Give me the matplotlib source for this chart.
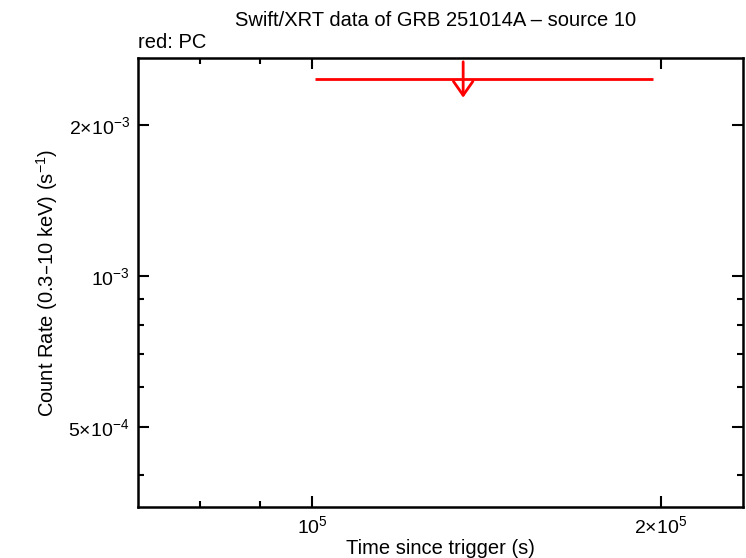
import numpy as np
import matplotlib
matplotlib.use("Agg")
import matplotlib.pyplot as plt
from matplotlib.ticker import FixedLocator, FixedFormatter, NullFormatter

plt.rcParams['font.family'] = ['Liberation Sans', 'DejaVu Sans']
plt.rcParams['mathtext.default'] = 'regular'

# PC mode upper limit
t_mid = [1.35e5]
t_lo = [1.006e5]
t_hi = [1.971e5]
rate_ul = [2.474e-3]

x_major = [1e5, 2e5]
x_major_labels = ['$10^{5}$', '$2{\\times}10^{5}$']
x_minor = [7e4, 8e4, 9e4]
y_major = [5e-4, 1e-3, 2e-3]
y_major_labels = ['$5{\\times}10^{-4}$', '$10^{-3}$', '$2{\\times}10^{-3}$']
y_minor = [4e-4, 6e-4, 7e-4, 8e-4, 9e-4]

fig = plt.figure(figsize=(7.46, 5.58), dpi=100)
ax = fig.add_axes([138/746, 51/558, 605/746, 449/558])
ax.set_xscale('log')
ax.set_yscale('log')
ax.set_xlim(70650, 235700)
ax.set_ylim(3.457e-4, 2.726e-3)

for t, lo, hi, r in zip(t_mid, t_lo, t_hi, rate_ul):
    ax.plot([lo, hi], [r, r], color='red', lw=2.0, solid_capstyle='butt')
    ax.annotate('', xy=(t, r * 0.918), xytext=(t, r * 1.083),
                arrowprops=dict(arrowstyle='->,head_length=0.5,head_width=0.35',
                                color='red', lw=2.0,
                                mutation_scale=20, shrinkA=0, shrinkB=0))

ax.xaxis.set_major_locator(FixedLocator(x_major))
ax.xaxis.set_major_formatter(FixedFormatter(x_major_labels))
ax.xaxis.set_minor_locator(FixedLocator(x_minor))
ax.xaxis.set_minor_formatter(NullFormatter())
ax.yaxis.set_major_locator(FixedLocator(y_major))
ax.yaxis.set_major_formatter(FixedFormatter(y_major_labels))
ax.yaxis.set_minor_locator(FixedLocator(y_minor))
ax.yaxis.set_minor_formatter(NullFormatter())

ax.tick_params(which='both', direction='in', top=True, right=True, width=1.5,
               labelsize=14)
ax.tick_params(which='major', length=8, pad=6)
ax.tick_params(which='minor', length=4)
for s in ax.spines.values():
    s.set_linewidth(1.8)

ax.set_xlabel('Time since trigger (s)', fontsize=14.5, labelpad=1)
ax.set_ylabel('Count Rate (0.3\u201310 keV) (s$^{-1}$)', fontsize=14.5, labelpad=6)
fig.text(436/746, 1 - 20/558, 'Swift/XRT data of GRB 251014A \u2013 source 10',
         ha='center', va='center', fontsize=14.5)
fig.text(138/746, 1 - 43/558, 'red: PC', ha='left', va='center', fontsize=14.5)

fig.savefig('out.png', dpi=100)
